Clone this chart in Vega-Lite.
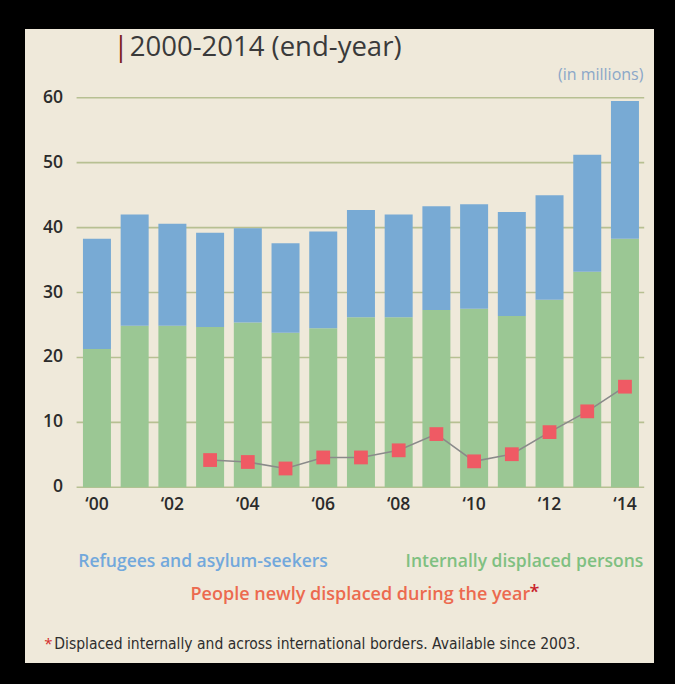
{
  "$schema": "https://vega.github.io/schema/vega-lite/v6.json",
  "width": 671,
  "height": 676,
  "autosize": "none",
  "padding": {"left": 4, "top": 8, "right": 0, "bottom": 0},
  "background": "white",
  "config": {
    "view": {"fill": "#efe9da", "stroke": "#000000", "strokeWidth": 42},
    "font": "Open Sans"
  },
  "datasets": {
    "bars": [
      {"year": 2000, "group": "Internally displaced persons", "value": 21.3},
      {"year": 2000, "group": "Refugees and asylum-seekers", "value": 17.0},
      {"year": 2001, "group": "Internally displaced persons", "value": 24.9},
      {"year": 2001, "group": "Refugees and asylum-seekers", "value": 17.1},
      {"year": 2002, "group": "Internally displaced persons", "value": 24.9},
      {"year": 2002, "group": "Refugees and asylum-seekers", "value": 15.7},
      {"year": 2003, "group": "Internally displaced persons", "value": 24.7},
      {"year": 2003, "group": "Refugees and asylum-seekers", "value": 14.5},
      {"year": 2004, "group": "Internally displaced persons", "value": 25.4},
      {"year": 2004, "group": "Refugees and asylum-seekers", "value": 14.5},
      {"year": 2005, "group": "Internally displaced persons", "value": 23.8},
      {"year": 2005, "group": "Refugees and asylum-seekers", "value": 13.8},
      {"year": 2006, "group": "Internally displaced persons", "value": 24.5},
      {"year": 2006, "group": "Refugees and asylum-seekers", "value": 14.9},
      {"year": 2007, "group": "Internally displaced persons", "value": 26.2},
      {"year": 2007, "group": "Refugees and asylum-seekers", "value": 16.5},
      {"year": 2008, "group": "Internally displaced persons", "value": 26.2},
      {"year": 2008, "group": "Refugees and asylum-seekers", "value": 15.8},
      {"year": 2009, "group": "Internally displaced persons", "value": 27.3},
      {"year": 2009, "group": "Refugees and asylum-seekers", "value": 16.0},
      {"year": 2010, "group": "Internally displaced persons", "value": 27.5},
      {"year": 2010, "group": "Refugees and asylum-seekers", "value": 16.1},
      {"year": 2011, "group": "Internally displaced persons", "value": 26.4},
      {"year": 2011, "group": "Refugees and asylum-seekers", "value": 16.0},
      {"year": 2012, "group": "Internally displaced persons", "value": 28.9},
      {"year": 2012, "group": "Refugees and asylum-seekers", "value": 16.1},
      {"year": 2013, "group": "Internally displaced persons", "value": 33.2},
      {"year": 2013, "group": "Refugees and asylum-seekers", "value": 18.0},
      {"year": 2014, "group": "Internally displaced persons", "value": 38.3},
      {"year": 2014, "group": "Refugees and asylum-seekers", "value": 21.2}
    ],
    "newly": [
      {"year": 2003, "value": 4.2},
      {"year": 2004, "value": 3.9},
      {"year": 2005, "value": 2.9},
      {"year": 2006, "value": 4.6},
      {"year": 2007, "value": 4.6},
      {"year": 2008, "value": 5.7},
      {"year": 2009, "value": 8.2},
      {"year": 2010, "value": 4.0},
      {"year": 2011, "value": 5.1},
      {"year": 2012, "value": 8.5},
      {"year": 2013, "value": 11.7},
      {"year": 2014, "value": 15.5}
    ],
    "grid": [
      {"v": 0, "label": "0"}, {"v": 10, "label": "10"}, {"v": 20, "label": "20"}, {"v": 30, "label": "30"}, {"v": 40, "label": "40"}, {"v": 50, "label": "50"}, {"v": 60, "label": "60"}
    ],
    "xlabels": [
      {"year": 2000, "label": "‘00"},
      {"year": 2002, "label": "‘02"},
      {"year": 2004, "label": "‘04"},
      {"year": 2006, "label": "‘06"},
      {"year": 2008, "label": "‘08"},
      {"year": 2010, "label": "‘10"},
      {"year": 2012, "label": "‘12"},
      {"year": 2014, "label": "‘14"}
    ]
  },
  "layer": [
    {
      "data": {"name": "grid"},
      "mark": {"type": "rule", "color": "#b7c092", "strokeWidth": 1.6},
      "encoding": {
        "x": {"datum": 1999.46, "type": "quantitative", "scale": {"domain": [1997.668, 2015.194], "nice": false, "zero": false}, "axis": null},
        "x2": {"datum": 2014.51},
        "y": {"field": "v", "type": "quantitative", "scale": {"domain": [-30.29, 73.82], "nice": false, "zero": false}, "axis": null}
      }
    },
    {
      "data": {"name": "grid"},
      "mark": {"type": "text", "align": "right", "baseline": "middle", "fontSize": 17.5, "fontWeight": 600, "color": "#2b2b2b", "font": "Open Sans"},
      "encoding": {
        "x": {"datum": 1999.1, "type": "quantitative", "axis": null},
        "y": {"field": "v", "type": "quantitative", "axis": null},
        "text": {"field": "label", "type": "nominal"}
      }
    },
    {
      "data": {"name": "xlabels"},
      "mark": {"type": "text", "align": "center", "baseline": "middle", "fontSize": 17.5, "fontWeight": 600, "color": "#2b2b2b", "font": "Open Sans"},
      "encoding": {
        "x": {"field": "year", "type": "quantitative", "axis": null},
        "y": {"datum": -2.75, "type": "quantitative", "axis": null},
        "text": {"field": "label", "type": "nominal"}
      }
    },
    {
      "data": {"name": "bars"},
      "mark": {"type": "bar", "size": 28},
      "encoding": {
        "x": {"field": "year", "type": "quantitative", "axis": null},
        "y": {"field": "value", "type": "quantitative", "stack": "zero", "axis": null},
        "color": {
          "field": "group", "type": "nominal",
          "scale": {"domain": ["Internally displaced persons", "Refugees and asylum-seekers"], "range": ["#9bc794", "#78aad4"]},
          "legend": null
        },
        "order": {"field": "group", "sort": "ascending"}
      }
    },
    {
      "data": {"name": "newly"},
      "mark": {"type": "line", "color": "#8a8a8a", "strokeWidth": 1.6},
      "encoding": {
        "x": {"field": "year", "type": "quantitative", "axis": null},
        "y": {"field": "value", "type": "quantitative", "axis": null}
      }
    },
    {
      "data": {"name": "newly"},
      "mark": {"type": "square", "filled": true, "size": 190, "color": "#ef5a64", "opacity": 1},
      "encoding": {
        "x": {"field": "year", "type": "quantitative", "axis": null},
        "y": {"field": "value", "type": "quantitative", "axis": null}
      }
    },
    {
      "data": {"values": [{"label": "|"}]},
      "mark": {"type": "text", "align": "left", "baseline": "middle", "fontSize": 27, "color": "#7a2020", "font": "Open Sans"},
      "encoding": {
        "x": {"datum": 2000.44, "type": "quantitative", "axis": null},
        "y": {"datum": 67.66, "type": "quantitative", "axis": null},
        "text": {"field": "label", "type": "nominal"}
      }
    },
    {
      "data": {"values": [{"label": "2000-2014 (end-year)"}]},
      "mark": {"type": "text", "align": "left", "baseline": "middle", "fontSize": 27.5, "color": "#3a3a3a", "font": "Open Sans"},
      "encoding": {
        "x": {"datum": 2000.87, "type": "quantitative", "axis": null},
        "y": {"datum": 67.66, "type": "quantitative", "axis": null},
        "text": {"field": "label", "type": "nominal"}
      }
    },
    {
      "data": {"values": [{"label": "(in millions)"}]},
      "mark": {"type": "text", "align": "right", "baseline": "middle", "fontSize": 16, "color": "#8aa7c8", "font": "Open Sans"},
      "encoding": {
        "x": {"datum": 2014.49, "type": "quantitative", "axis": null},
        "y": {"datum": 63.53, "type": "quantitative", "axis": null},
        "text": {"field": "label", "type": "nominal"}
      }
    },
    {
      "data": {"values": [{"label": "Refugees and asylum-seekers"}]},
      "mark": {"type": "text", "align": "left", "baseline": "middle", "fontSize": 17.5, "fontWeight": 600, "color": "#72a8dc", "font": "Open Sans"},
      "encoding": {
        "x": {"datum": 1999.504, "type": "quantitative", "axis": null},
        "y": {"datum": -11.46, "type": "quantitative", "axis": null},
        "text": {"field": "label", "type": "nominal"}
      }
    },
    {
      "data": {"values": [{"label": "Internally displaced persons"}]},
      "mark": {"type": "text", "align": "right", "baseline": "middle", "fontSize": 17.5, "fontWeight": 600, "color": "#7fc081", "font": "Open Sans"},
      "encoding": {
        "x": {"datum": 2014.488, "type": "quantitative", "axis": null},
        "y": {"datum": -11.46, "type": "quantitative", "axis": null},
        "text": {"field": "label", "type": "nominal"}
      }
    },
    {
      "data": {"values": [{"label": "People newly displaced during the year"}]},
      "mark": {"type": "text", "align": "left", "baseline": "middle", "fontSize": 18, "fontWeight": 600, "color": "#ec6a4f", "font": "Open Sans"},
      "encoding": {
        "x": {"datum": 2002.481, "type": "quantitative", "axis": null},
        "y": {"datum": -16.59, "type": "quantitative", "axis": null},
        "text": {"field": "label", "type": "nominal"}
      }
    },
    {
      "data": {"values": [{"label": "*"}]},
      "mark": {"type": "text", "align": "left", "baseline": "middle", "fontSize": 18, "fontWeight": 600, "color": "#c8222a", "font": "Open Sans"},
      "encoding": {
        "x": {"datum": 2011.47, "type": "quantitative", "axis": null},
        "y": {"datum": -16.2, "type": "quantitative", "axis": null},
        "text": {"field": "label", "type": "nominal"}
      }
    },
    {
      "data": {"values": [{"label": "*"}]},
      "mark": {"type": "text", "align": "left", "baseline": "middle", "fontSize": 15, "color": "#d42a2a", "font": "Open Sans"},
      "encoding": {
        "x": {"datum": 1998.6, "type": "quantitative", "axis": null},
        "y": {"datum": -24.13, "type": "quantitative", "axis": null},
        "text": {"field": "label", "type": "nominal"}
      }
    },
    {
      "data": {"values": [{"label": "Displaced internally and across international borders. Available since 2003."}]},
      "mark": {"type": "text", "align": "left", "baseline": "middle", "fontSize": 15.5, "color": "#2e2e2e", "font": "DejaVu Sans Condensed, Liberation Sans Narrow, Open Sans"},
      "encoding": {
        "x": {"datum": 1998.869, "type": "quantitative", "axis": null},
        "y": {"datum": -24.13, "type": "quantitative", "axis": null},
        "text": {"field": "label", "type": "nominal"}
      }
    }
  ]
}
